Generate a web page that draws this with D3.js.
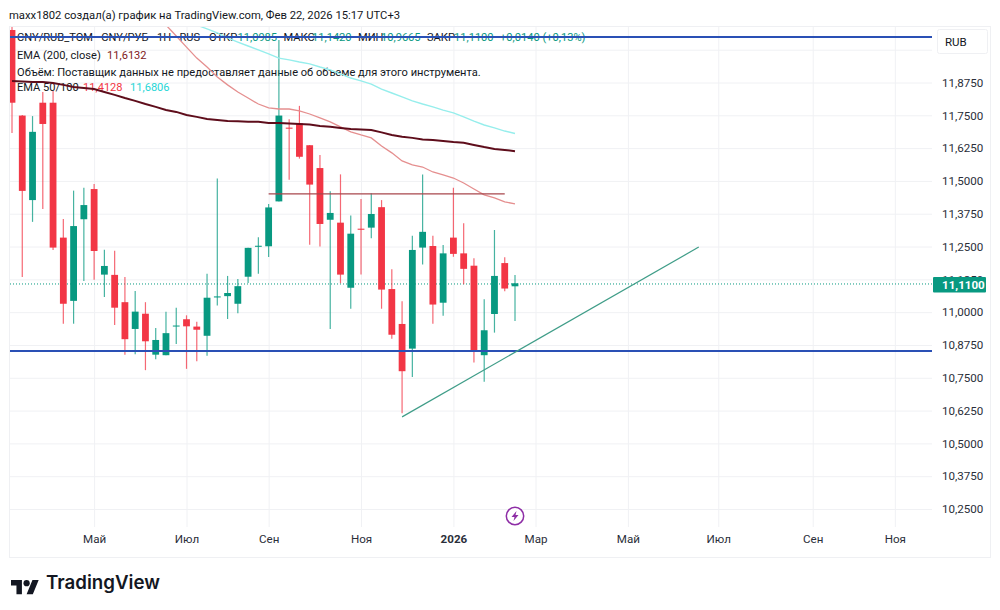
<!DOCTYPE html>
<html>
<head>
<meta charset="utf-8">
<title>CNY/RUB_TOM</title>
<script src="https://cdn.jsdelivr.net/npm/d3@7"></script>
<style>
  html, body { margin: 0; padding: 0; background: #ffffff; }
  text { font-family: "Roboto", "Noto Sans", sans-serif; fill: #131722; }
  .grid line { stroke: #f0f1f4; }
  .grid path { display: none; }
  .axis path, .axis line { display: none; }
  .axis text { font-size: 11.6px; fill: #2a2e39; }
</style>
</head>
<body>
<div id="chart"></div>
<script>
// Weekly candles
var opens = [12.075, 11.749, 11.427, 11.798, 11.798, 11.284, 11.043, 11.354, 11.469, 11.143,
  11.142, 11.038, 10.936, 10.994, 10.838, 10.836, 10.946, 10.973, 10.945, 10.910,
  11.056, 11.061, 11.032, 11.135, 11.249, 11.251, 11.422, 11.703, 11.720, 11.636,
  11.549, 11.352, 11.341, 11.093, 11.318, 11.322, 11.400, 11.088, 10.955, 10.861,
  11.246, 11.252, 11.036, 11.284, 11.224, 11.177, 10.836, 10.993, 11.187, 11.0985];
var highs = [12.090, 11.751, 11.747, 11.839, 11.843, 11.355, 11.463, 11.474, 11.488, 11.238,
  11.234, 11.134, 11.081, 11.038, 10.940, 11.002, 11.017, 10.988, 10.963, 11.146,
  11.509, 11.138, 11.126, 11.245, 11.285, 11.412, 12.037, 11.735, 11.786, 11.637,
  11.599, 11.461, 11.525, 11.368, 11.431, 11.453, 11.427, 11.163, 11.042, 11.291,
  11.524, 11.291, 11.256, 11.474, 11.339, 11.205, 11.049, 11.313, 11.209, 11.1420];
var lows = [11.683, 11.134, 11.344, 11.393, 11.237, 10.956, 10.956, 11.119, 11.123, 11.058,
  10.951, 10.838, 10.840, 10.779, 10.821, 10.836, 10.879, 10.784, 10.813, 10.834,
  11.025, 10.974, 10.996, 11.111, 11.146, 11.210, 11.422, 11.504, 11.585, 11.257,
  11.250, 10.936, 11.110, 11.013, 11.143, 11.282, 11.013, 10.899, 10.615, 10.753,
  11.182, 10.956, 10.986, 11.211, 11.106, 10.808, 10.735, 10.922, 11.080, 10.9665];
var closes = [11.798, 11.462, 11.687, 11.717, 11.246, 11.032, 11.328, 11.408, 11.233, 11.176,
  11.017, 10.897, 11.002, 10.889, 10.894, 10.920, 10.949, 10.946, 10.933, 11.055,
  11.060, 11.073, 11.099, 11.245, 11.253, 11.399, 11.749, 11.699, 11.592, 11.486,
  11.336, 11.378, 11.143, 11.299, 11.314, 11.374, 11.086, 10.914, 10.775, 11.237,
  11.306, 11.029, 11.224, 11.222, 11.165, 10.851, 10.931, 11.138, 11.090, 11.1100];

// EMA lines, first value belongs to the candle index in the *Start variable
var ema200 = [11.881, 11.879, 11.877, 11.877, 11.873, 11.866, 11.858, 11.854, 11.850, 11.839,
  11.828, 11.816, 11.805, 11.793, 11.782, 11.770, 11.763, 11.751, 11.744, 11.736,
  11.732, 11.728, 11.727, 11.725, 11.725, 11.721, 11.721, 11.719, 11.717, 11.715,
  11.709, 11.706, 11.702, 11.698, 11.696, 11.694, 11.685, 11.675, 11.668, 11.664,
  11.658, 11.656, 11.652, 11.648, 11.645, 11.637, 11.629, 11.622, 11.618, 11.6132];
var ema50Start = 15;
var ema50 = [12.094, 12.052, 12.010, 11.968, 11.934, 11.896, 11.866, 11.839, 11.816, 11.793,
  11.778, 11.774, 11.774, 11.767, 11.755, 11.740, 11.725, 11.706, 11.687, 11.675,
  11.664, 11.633, 11.607, 11.576, 11.561, 11.553, 11.534, 11.523, 11.511, 11.492,
  11.469, 11.447, 11.435, 11.420, 11.4128];
var ema100Start = 18;
var ema100 = [12.094, 12.079, 12.064, 12.045, 12.029, 12.014, 11.999, 11.984, 11.968, 11.961,
  11.953, 11.946, 11.934, 11.923, 11.908, 11.892, 11.881, 11.869, 11.850, 11.835,
  11.820, 11.805, 11.793, 11.782, 11.770, 11.759, 11.744, 11.728, 11.713, 11.702,
  11.690, 11.6806];

// Drawn levels
var blueLevels = [12.0485, 10.852];
var resistance = { from: 25, to: 48, level: 11.451 };
var trendIndex = [38, 66.9];
var trendPrice = [10.601, 11.248];
var lastPrice = 11.11;

// Axis labels
var priceTicks = [12, 11.875, 11.75, 11.625, 11.5, 11.375, 11.25, 11.125, 11, 10.875, 10.75, 10.625, 10.5, 10.375, 10.25];
var monthIndex = [8, 17, 25, 34, 43, 51, 60, 68.8, 78, 86];
var monthLabels = ["Май", "Июл", "Сен", "Ноя", "2026", "Мар", "Май", "Июл", "Сен", "Ноя"];

var svgWidth = 1000;
var svgHeight = 610;
var pane = { left: 10, right: 932, top: 27, bottom: 527 };

var upColor = "#089981";
var downColor = "#f23645";

var svg = d3.select("#chart")
  .append("svg")
  .attr("width", svgWidth)
  .attr("height", svgHeight)
  .style("display", "block");

var xScale = d3.scaleLinear().domain([0, 49]).range([12, 515]);
var yScale = d3.scaleLinear().domain([10.25, 11.875]).range([509, 82.5]);
var fmt = function(v, n) { return v.toFixed(n).replace(".", ","); };

svg.append("text").attr("x", 9).attr("y", 19).style("font-size", "11.25px")
  .text("maxx1802 создал(а) график на TradingView.com, Фев 22, 2026 15:17 UTC+3");

// Frame
svg.append("rect")
  .attr("x", 9.5).attr("y", 26.5).attr("width", 981).attr("height", 531)
  .attr("fill", "none").attr("stroke", "#eff0f3");

// Grid
svg.append("g").attr("class", "grid")
  .attr("transform", `translate(${pane.left}, 0)`)
  .call(d3.axisRight(yScale).tickValues(priceTicks).tickSize(pane.right - pane.left).tickFormat(""));
svg.append("g").attr("class", "grid")
  .attr("transform", `translate(0, ${pane.bottom})`)
  .call(d3.axisTop(xScale).tickValues(monthIndex).tickSize(pane.bottom - pane.top).tickFormat(""));

// Legend, under the lines as in the picture
var legend = svg.append("g").style("font-size", "11.1px");
var legendRows = [
  [17, 41, "CNY/RUB_TOM · CNY/РУБ · 1Н · RUS", "#131722"],
  [209, 41, "ОТКР", "#131722"], [237.5, 41, fmt(opens[49], 4), upColor],
  [283.5, 41, "МАКС", "#131722"], [312, 41, fmt(highs[49], 4), upColor],
  [358, 41, "МИН", "#131722"], [381, 41, fmt(lows[49], 4), upColor],
  [427, 41, "ЗАКР", "#131722"], [454, 41, fmt(closes[49], 4), upColor],
  [500, 41, "+0,0140 (+0,13%)", upColor],
  [17, 59, "EMA (200, close)", "#131722"], [107, 59, fmt(ema200[49], 4), "#801922"],
  [17, 75.5, "Объём: Поставщик данных не предоставляет данные об объеме для этого инструмента.", "#131722"],
  [17, 91, "EMA 50/100", "#131722"], [83, 91, fmt(ema50[34], 4), "#f23645"], [130, 91, fmt(ema100[31], 4), "#26d6d6"]
];
legend.selectAll("text")
  .data(legendRows)
  .enter()
  .append("text")
  .attr("x", d => d[0])
  .attr("y", d => d[1])
  .style("fill", d => d[3])
  .text(d => d[2]);

svg.append("clipPath").attr("id", "paneClip")
  .append("rect")
  .attr("x", pane.left).attr("y", pane.top)
  .attr("width", pane.right - pane.left).attr("height", pane.bottom - pane.top);

var plot = svg.append("g").attr("clip-path", "url(#paneClip)");

// Dotted last price
plot.append("line")
  .attr("x1", pane.left).attr("x2", pane.right)
  .attr("y1", yScale(lastPrice) + 0.7).attr("y2", yScale(lastPrice) + 0.7)
  .attr("stroke", upColor).attr("stroke-dasharray", "1 2");

// Candles
var candles = plot.selectAll(".candle")
  .data(opens.map((o, i) => i))
  .enter()
  .append("g")
  .attr("class", "candle");

candles.append("line")
  .attr("x1", i => xScale(i)).attr("x2", i => xScale(i))
  .attr("y1", i => yScale(highs[i])).attr("y2", i => yScale(lows[i]))
  .attr("stroke", i => closes[i] >= opens[i] ? upColor : downColor)
  .attr("stroke-opacity", 0.75)
  .attr("stroke-width", 1.2);

candles.append("rect")
  .attr("x", i => xScale(i) - 3.4)
  .attr("width", 6.8)
  .attr("y", i => yScale(Math.max(opens[i], closes[i])))
  .attr("height", i => Math.max(1, Math.abs(yScale(opens[i]) - yScale(closes[i]))))
  .attr("fill", i => closes[i] >= opens[i] ? upColor : downColor);

// EMAs
var emaLine = function(start) {
  return d3.line().x((d, i) => xScale(i + start)).y(d => yScale(d));
};
plot.append("path").attr("d", emaLine(ema100Start)(ema100))
  .attr("fill", "none").attr("stroke", "#96eeec").attr("stroke-width", 1.4);
plot.append("path").attr("d", emaLine(ema50Start)(ema50))
  .attr("fill", "none").attr("stroke", "#e58f8f").attr("stroke-width", 1.3);
plot.append("path").attr("d", emaLine(0)(ema200))
  .attr("fill", "none").attr("stroke", "#5e0d1b").attr("stroke-width", 2);

// Drawings
plot.selectAll(".level")
  .data(blueLevels)
  .enter()
  .append("line")
  .attr("class", "level")
  .attr("x1", pane.left).attr("x2", pane.right)
  .attr("y1", d => yScale(d)).attr("y2", d => yScale(d))
  .attr("stroke", "#2a50b5").attr("stroke-width", 2);

plot.append("line")
  .attr("x1", xScale(resistance.from)).attr("x2", xScale(resistance.to))
  .attr("y1", yScale(resistance.level)).attr("y2", yScale(resistance.level))
  .attr("stroke", "#a8474c").attr("stroke-width", 1.2);

plot.append("line")
  .attr("x1", xScale(trendIndex[0])).attr("x2", xScale(trendIndex[1]))
  .attr("y1", yScale(trendPrice[0])).attr("y2", yScale(trendPrice[1]))
  .attr("stroke", "#3f9d88").attr("stroke-width", 1.2);

// Lightning mark
var bolt = svg.append("g").attr("transform", "translate(515, 516)");
bolt.append("circle").attr("r", 8.7).attr("fill", "#fff").attr("stroke", "#8e2ea6").attr("stroke-width", 1.5);
bolt.append("path").attr("d", "M1.5 -5 L-3.5 1 L-0.5 1 L-1.5 5 L3.5 -1 L0.5 -1 Z").attr("fill", "#8e2ea6");

// Axes
svg.append("g").attr("class", "axis")
  .attr("transform", "translate(933, 0)")
  .call(d3.axisRight(yScale).tickValues(priceTicks.slice(1)).tickSize(0).tickPadding(9).tickFormat(d => fmt(d, 4)));

var timeAxis = svg.append("g").attr("class", "axis")
  .attr("transform", `translate(0, ${pane.bottom + 8})`)
  .call(d3.axisBottom(xScale).tickValues(monthIndex).tickSize(0).tickPadding(0)
    .tickFormat((d, i) => monthLabels[i]));
timeAxis.selectAll("text")
  .style("font-weight", (d, i) => monthLabels[i] === "2026" ? "700" : "400");

// Last price tag
svg.append("rect")
  .attr("x", 933).attr("y", 277).attr("width", 53).attr("height", 15.5)
  .attr("rx", 1).attr("fill", upColor);
svg.append("text")
  .attr("x", 942).attr("y", 289)
  .style("fill", "#fff").style("font-size", "11.6px").style("font-weight", "700")
  .text(fmt(lastPrice, 4));

// Currency button
svg.append("rect")
  .attr("x", 937.5).attr("y", 29.5).attr("width", 50).attr("height", 24).attr("rx", 2)
  .attr("fill", "#fff").attr("stroke", "#eff0f3");
svg.append("text").attr("x", 945).attr("y", 46).style("font-size", "11.5px").text("RUB");

// Logo
var logo = svg.append("g").attr("transform", "translate(11, 577) scale(0.78)");
logo.append("path").attr("d", "M14 22H7V11H0V4h14v18zM28 22h-8l7.5-18h8L28 22z").attr("fill", "#131722");
logo.append("circle").attr("cx", 20).attr("cy", 8).attr("r", 4).attr("fill", "#131722");
svg.append("text")
  .attr("x", 46).attr("y", 589)
  .style("font-family", "Inter, sans-serif").style("font-size", "18.7px").style("font-weight", "600")
  .text("TradingView");
</script>
</body>
</html>
